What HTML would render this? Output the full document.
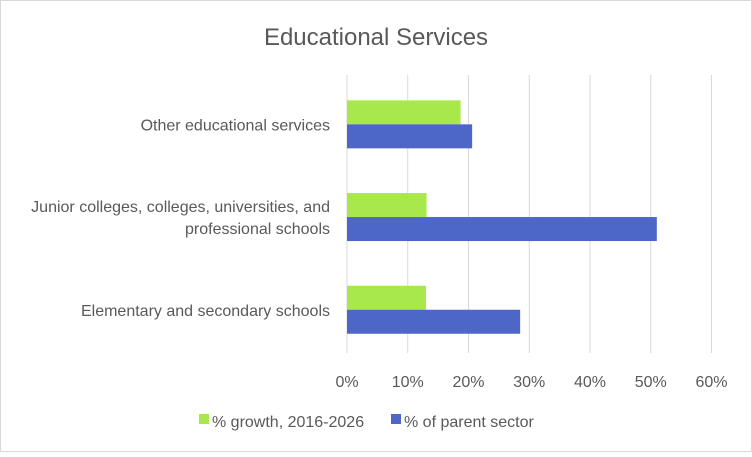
<!DOCTYPE html>
<html><head><meta charset="utf-8"><style>
body{margin:0;background:#fff;font-family:"Liberation Sans",sans-serif;}
svg text{font-family:"Liberation Sans",sans-serif;}
</style></head><body>
<svg id="chart" width="752" height="452">
<rect x="0.5" y="0.5" width="751" height="451" fill="#fff" stroke="#d9d9d9"/>
<text x="376" y="45" text-anchor="middle" font-size="24" fill="#595959">Educational Services</text>
<g id="grid"></g><g id="bars"></g><g id="labels"></g>
<g>
<rect x="199" y="414" width="10" height="10" fill="#a9e84a"/>
<text x="212" y="427" font-size="16" fill="#595959">% growth, 2016-2026</text>
<rect x="391" y="414" width="10" height="10" fill="#4d67c8"/>
<text x="404" y="427" font-size="16" fill="#595959">% of parent sector</text>
</g>
</svg>
<script>
const categories=["Other educational services",["Junior colleges, colleges, universities, and","professional schools"],"Elementary and secondary schools"];
const growth=[18.7,13.1,13.0];
const parent=[20.6,51.0,28.5];
const ticks=[0,10,20,30,40,50,60];
const NS="http://www.w3.org/2000/svg";
const x0=347,pxPer=(711.5-347)/60,plotTop=75,band=92.7,barH=24;
const X=v=>x0+v*pxPer;
function mk(t,a,p){const e=document.createElementNS(NS,t);for(const k in a)e.setAttribute(k,a[k]);p.appendChild(e);return e;}
const grid=document.getElementById('grid'),bars=document.getElementById('bars'),labels=document.getElementById('labels');
ticks.forEach(t=>{
 const l=mk('line',{x1:X(t),x2:X(t),y1:plotTop,y2:353,stroke:'#d9d9d9','stroke-width':1},grid);
 
 
 const tx=mk('text',{x:X(t),y:387,'text-anchor':'middle','font-size':16,fill:'#595959'},labels);
 tx.textContent=t+'%';
 
 
});
categories.forEach((c,i)=>{
 const cy=plotTop+3+band*(i+0.5);
 const g=mk('rect',{x:x0,y:cy-barH,width:X(growth[i])-x0,height:barH,fill:'#a9e84a'},bars);
 
 
 const p=mk('rect',{x:x0,y:cy,width:X(parent[i])-x0,height:barH,fill:'#4d67c8'},bars);
 
 
 const lines=Array.isArray(c)?c:[c];
 lines.forEach((ln,j)=>{
  const t=mk('text',{x:330,y:cy+6+(j-(lines.length-1)/2)*22,'text-anchor':'end','font-size':16,fill:'#595959'},labels);
  t.textContent=ln;
  
  
 });
});
</script>
</body></html>
